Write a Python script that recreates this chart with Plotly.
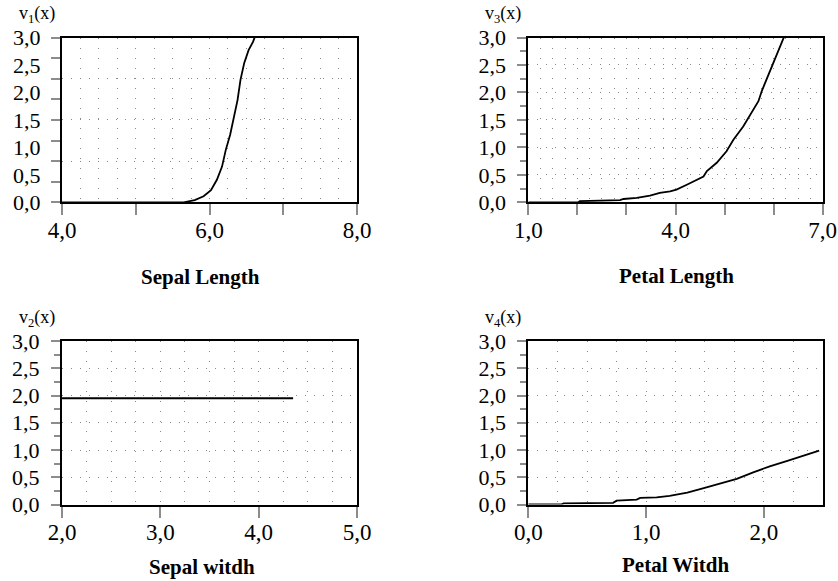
import plotly.graph_objects as go

# ---------------- data ----------------
sepal_len_x = [4.0, 5.65, 5.80, 5.92, 6.02, 6.10, 6.17, 6.22, 6.28, 6.33, 6.38, 6.42, 6.47, 6.53, 6.59, 6.62]
sepal_len_y = [0.0, 0.0, 0.04, 0.11, 0.22, 0.41, 0.65, 0.95, 1.23, 1.53, 1.86, 2.23, 2.53, 2.77, 2.92, 3.03]

petal_len_x = [1.0, 2.02, 2.05, 2.87, 2.94, 3.21, 3.48, 3.68, 3.89, 4.02, 4.23, 4.57, 4.64, 4.84, 5.04, 5.18, 5.38, 5.52, 5.69, 5.76, 6.0, 6.23]
petal_len_y = [0.0, 0.0, 0.02, 0.04, 0.06, 0.08, 0.12, 0.17, 0.20, 0.23, 0.32, 0.47, 0.57, 0.72, 0.93, 1.14, 1.38, 1.60, 1.84, 2.03, 2.57, 3.05]

sepal_wid_x = [2.0, 4.35]
sepal_wid_y = [1.95, 1.95]

petal_wid_x = [0.0, 0.28, 0.30, 0.72, 0.75, 0.92, 0.95, 1.09, 1.20, 1.35, 1.49, 1.63, 1.77, 1.91, 2.05, 2.20, 2.34, 2.47]
petal_wid_y = [0.0, 0.0, 0.02, 0.03, 0.07, 0.09, 0.12, 0.13, 0.16, 0.22, 0.30, 0.38, 0.47, 0.59, 0.70, 0.80, 0.90, 0.99]

y_label_vals = [0.0, 0.5, 1.0, 1.5, 2.0, 2.5, 3.0]
y_label_text = ["0,0", "0,5", "1,0", "1,5", "2,0", "2,5", "3,0"]

x1_tickvals = [4, 5, 6, 7, 8]
x1_ticktext = ["4,0", "", "6,0", "", "8,0"]
x2_tickvals = [1, 2, 3, 4, 5, 6, 7]
x2_ticktext = ["1,0", "", "", "4,0", "", "", "7,0"]
x3_tickvals = [2, 3, 4, 5]
x3_ticktext = ["2,0", "3,0", "4,0", "5,0"]
x4_tickvals = [0, 1, 2]
x4_ticktext = ["0,0", "1,0", "2,0"]

titles = ["Sepal Length", "Petal Length", "Sepal witdh", "Petal Witdh"]
ylabels = ["v<sub>1</sub>(x)", "v<sub>3</sub>(x)", "v<sub>2</sub>(x)", "v<sub>4</sub>(x)"]

# ---------------- layout helpers ----------------
W, H = 838, 581
FONT = "Liberation Serif, Times New Roman, serif"
GRID = "#8a8a8a"
TICKC = "#8c8c8c"
XFONT = 23
YFONT = 22

dom_left = [62 / W, 357 / W]
dom_right = [528.3 / W, 822.7 / W]
dom_top = [1 - 202.3 / H, 1 - 37.5 / H]
dom_bot = [1 - 504.5 / H, 1 - 341 / H]

def xax(domain, rng, tv, tt, anchor):
    return dict(
        domain=domain, range=rng, anchor=anchor, automargin=False,
        tickmode="array", tickvals=tv, ticktext=tt,
        ticks="outside", ticklen=11, tickwidth=2, tickcolor=TICKC,
        ticklabelstandoff=-5,
        tickfont=dict(family=FONT, size=XFONT, color="black"),
        showline=True, linecolor="black", linewidth=2, mirror=True,
        showgrid=True, gridcolor=GRID, gridwidth=1, griddash="1px,9px",
        minor=dict(tick0=rng[0], dtick=0.25, showgrid=True, gridcolor=GRID,
                   gridwidth=1, griddash="1px,9px", ticks=""),
        zeroline=False, fixedrange=True,
    )

def yax(domain, anchor):
    return dict(
        domain=domain, range=[0, 3], anchor=anchor, automargin=False,
        tickmode="array", tickvals=y_label_vals, ticktext=y_label_text,
        ticks="outside", ticklen=9, tickwidth=2, tickcolor=TICKC,
        ticklabelstandoff=7,
        tickfont=dict(family=FONT, size=YFONT, color="black"),
        showline=True, linecolor="black", linewidth=2, mirror=True,
        showgrid=True, gridcolor=GRID, gridwidth=1, griddash="1px,8px",
        minor=dict(tick0=0, dtick=0.25, ticks="outside", ticklen=6,
                   tickwidth=2, tickcolor=TICKC, showgrid=False),
        zeroline=False, fixedrange=True,
    )

fig = go.Figure()
line = dict(color="black", width=1.8)
fig.add_trace(go.Scatter(x=sepal_len_x, y=sepal_len_y, mode="lines", line=line, xaxis="x", yaxis="y"))
fig.add_trace(go.Scatter(x=petal_len_x, y=petal_len_y, mode="lines", line=line, xaxis="x2", yaxis="y2"))
fig.add_trace(go.Scatter(x=sepal_wid_x, y=sepal_wid_y, mode="lines", line=line, xaxis="x3", yaxis="y3"))
fig.add_trace(go.Scatter(x=petal_wid_x, y=petal_wid_y, mode="lines", line=line, xaxis="x4", yaxis="y4"))
# helper trace for the label-only overlay axis of panel 1
fig.add_trace(go.Scatter(x=[None], y=[None], mode="lines", xaxis="x", yaxis="y5", hoverinfo="skip"))

# Panel 1 y-axis: ticks every 3/8, grid every 0.75, labels every 0.5 (overlay axis)
y1 = dict(
    domain=dom_top, range=[0, 3], anchor="x", automargin=False,
    tickmode="array", tickvals=[0, 0.75, 1.5, 2.25, 3], showticklabels=False,
    ticks="outside", ticklen=9, tickwidth=2, tickcolor=TICKC,
    showline=True, linecolor="black", linewidth=2, mirror=True,
    showgrid=True, gridcolor=GRID, gridwidth=1, griddash="1px,8px",
    minor=dict(tick0=0, dtick=0.375, ticks="outside", ticklen=9,
               tickwidth=2, tickcolor=TICKC, showgrid=False),
    zeroline=False, fixedrange=True,
)
y5 = dict(
    overlaying="y", anchor="x", side="left", range=[0, 3], automargin=False,
    tickmode="array", tickvals=y_label_vals, ticktext=y_label_text,
    ticks="outside", ticklen=9, tickcolor="rgba(0,0,0,0)",
    ticklabelstandoff=7,
    tickfont=dict(family=FONT, size=YFONT, color="black"),
    showline=False, showgrid=False, zeroline=False, fixedrange=True,
)

fig.update_layout(
    width=W, height=H, margin=dict(l=0, r=0, t=0, b=0, autoexpand=False),
    paper_bgcolor="white", plot_bgcolor="white", showlegend=False,
    hovermode=False,
    xaxis=xax(dom_left, [4, 8], x1_tickvals, x1_ticktext, "y"),
    yaxis=y1,
    xaxis2=xax(dom_right, [1, 7], x2_tickvals, x2_ticktext, "y2"),
    yaxis2=yax(dom_top, "x2"),
    xaxis3=xax(dom_left, [2, 5], x3_tickvals, x3_ticktext, "y3"),
    yaxis3=yax(dom_bot, "x3"),
    xaxis4=xax(dom_right, [0, 2.5], x4_tickvals, x4_ticktext, "y4"),
    yaxis4=yax(dom_bot, "x4"),
    yaxis5=y5,
)

axes = [("x", "y"), ("x2", "y2"), ("x3", "y3"), ("x4", "y4")]
title_xshift = [-9, 1, -8, 0]
title_yshift = [-75, -74, -62, -60]
for i, (xa, ya) in enumerate(axes):
    fig.add_annotation(
        text="<b>%s</b>" % titles[i], xref="%s domain" % xa, yref="%s domain" % ya,
        x=0.5, y=0, xanchor="center", yanchor="middle",
        xshift=title_xshift[i], yshift=title_yshift[i], showarrow=False,
        font=dict(family=FONT, size=21, color="black"),
    )
    fig.add_annotation(
        text=ylabels[i], xref="%s domain" % xa, yref="%s domain" % ya,
        x=0, y=1, xanchor="right", yanchor="bottom",
        xshift=-5, yshift=9, showarrow=False,
        font=dict(family=FONT, size=18, color="black"),
    )

fig.write_html(
    "out.html",
    include_plotlyjs=True,
    config={"displayModeBar": False, "staticPlot": True},
    post_script="document.body.style.margin='0';document.body.style.padding='0';",
)
